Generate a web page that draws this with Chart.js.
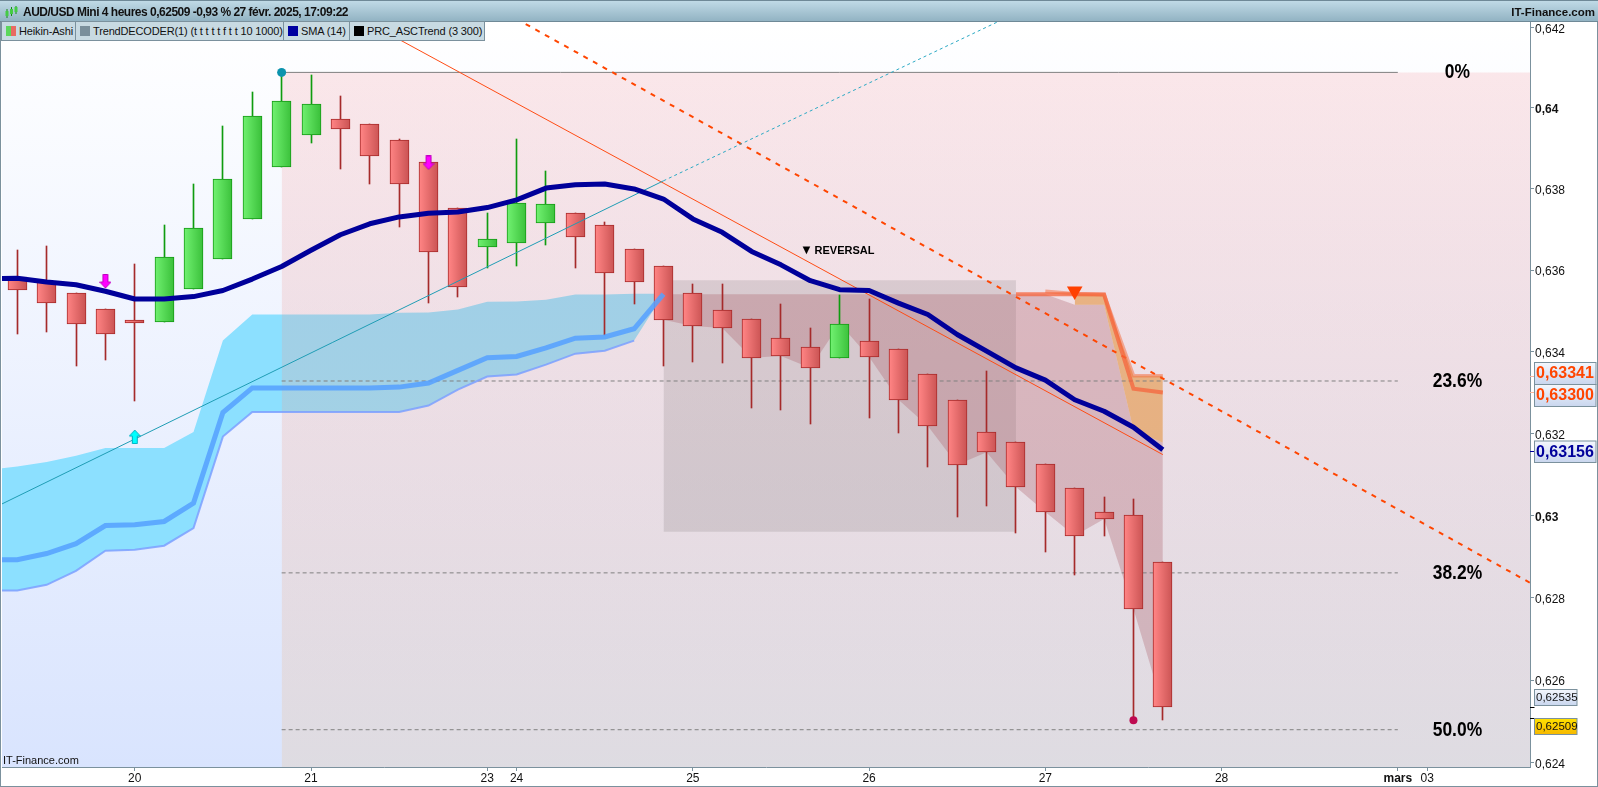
<!DOCTYPE html>
<html>
<head>
<meta charset="utf-8">
<title>AUD/USD Mini 4 heures</title>
<script src="https://cdn.jsdelivr.net/npm/chart.js@4/dist/chart.umd.min.js"></script>
<style>
  html, body { margin: 0; padding: 0; background: #fff; overflow: hidden; }
  body { width: 1598px; height: 787px; position: relative; font-family: "Liberation Sans", Arial, sans-serif; }
  #chart { position: absolute; left: 0; top: 0; width: 1598px; height: 787px; }
  #head { position: absolute; left: 0; top: 0; width: 1598px; height: 22px; border-top: 1px solid #6f8997; border-bottom: 1px solid #6f8997; box-sizing: border-box;
          background: linear-gradient(#c0dae6, #92b3c3); font-size: 11.5px; font-weight: bold; line-height: 22px; color: #111; }
  #head .t { position: absolute; left: 23px; top: 0; white-space: nowrap; letter-spacing: -0.5px; font-size: 12px; }
  #head .r { position: absolute; right: 3px; top: 0; white-space: nowrap; }
  #head .ico { position: absolute; left: 5px; top: 5px; width: 13px; height: 13px; }
  .lg { position: absolute; top: 21px; height: 20px; box-sizing: border-box; border: 1px solid #7b919d; background: #c8dae2; font-size: 11px; letter-spacing: -0.15px; line-height: 18px; color: #111; white-space: nowrap; }
  .lg i { position: absolute; left: 4px; top: 4px; width: 10px; height: 10px; display: block; }
  .lg span { position: absolute; left: 17px; top: 0; }
</style>
</head>
<body>
<canvas id="chart" width="1598" height="787"></canvas>
<div id="head">
  <svg class="ico" viewBox="0 0 13 13"><path d="M2 3v9M6.5 1v9M11 0v8" stroke="#158a15"/><rect x="0.5" y="5" width="3" height="5" fill="#4c4"/><rect x="5" y="3" width="3" height="5" fill="#4c4"/><rect x="9.5" y="1" width="3" height="5" fill="#4c4"/></svg>
  <div class="t">AUD/USD Mini 4 heures 0,62509 -0,93 % 27 févr. 2025, 17:09:22</div>
  <div class="r">IT-Finance.com</div>
</div>
<div class="lg" style="left:1px;width:75px"><i style="background:linear-gradient(90deg,#5bd75b 50%,#e86a62 50%)"></i><span>Heikin-Ashi</span></div>
<div class="lg" style="left:75px;width:209px"><i style="background:#7a8f9b"></i><span>TrendDECODER(1) (t t t t t f t t 10 1000)</span></div>
<div class="lg" style="left:283px;width:67px"><i style="background:#0000a0"></i><span>SMA (14)</span></div>
<div class="lg" style="left:349px;width:136px"><i style="background:#000"></i><span>PRC_ASCTrend (3 300)</span></div>
<script>
// Heikin-Ashi candles, x is the candle number (4h each)
const opens  = [0.63584,0.63570,0.63544,0.63505,0.63478,0.63473,0.63553,0.63627,0.63725,0.63854,0.63934,0.63972,0.63960,0.63920,0.63866,0.63754,0.63657,0.63667,0.63716,0.63740,0.63711,0.63652,0.63610,0.63544,0.63502,0.63480,0.63434,0.63412,0.63385,0.63426,0.63407,0.63345,0.63282,0.63203,0.63179,0.63125,0.63067,0.63008,0.63001,0.62887];
const closes = [0.63550,0.63519,0.63467,0.63442,0.63470,0.63632,0.63703,0.63824,0.63980,0.64017,0.64009,0.63948,0.63881,0.63812,0.63644,0.63558,0.63676,0.63765,0.63763,0.63681,0.63593,0.63571,0.63478,0.63463,0.63458,0.63385,0.63389,0.63360,0.63468,0.63387,0.63282,0.63218,0.63123,0.63154,0.63069,0.63008,0.62950,0.62991,0.62772,0.62535];
const highs  = [0.63650,0.63660,0.63544,0.63505,0.63616,0.63712,0.63813,0.63956,0.64040,0.64088,0.64082,0.64030,0.63960,0.63924,0.63866,0.63754,0.63741,0.63924,0.63845,0.63740,0.63719,0.63652,0.63610,0.63566,0.63566,0.63480,0.63517,0.63459,0.63540,0.63530,0.63407,0.63345,0.63282,0.63353,0.63179,0.63125,0.63067,0.63045,0.63040,0.62887];
const lows   = [0.63444,0.63447,0.63364,0.63380,0.63278,0.63473,0.63553,0.63627,0.63725,0.63854,0.63914,0.63850,0.63813,0.63705,0.63519,0.63533,0.63606,0.63609,0.63663,0.63604,0.63440,0.63516,0.63364,0.63374,0.63371,0.63261,0.63256,0.63222,0.63385,0.63237,0.63202,0.63119,0.62995,0.63022,0.62958,0.62910,0.62855,0.62949,0.62503,0.62503];

// SMA 14, starts one candle before the left edge
const sma14 = [0.63579,0.63580,0.63571,0.63564,0.63548,0.63529,0.63529,0.63535,0.63550,0.63578,0.63609,0.63649,0.63687,0.63714,0.63731,0.63740,0.63743,0.63754,0.63773,0.63802,0.63810,0.63812,0.63800,0.63775,0.63726,0.63693,0.63646,0.63613,0.63574,0.63552,0.63550,0.63519,0.63491,0.63442,0.63401,0.63360,0.63330,0.63282,0.63254,0.63215,0.63160];

// blue cloud, also from candle -1
const cloudUpper = [0.63111,0.63119,0.63130,0.63145,0.63164,0.63164,0.63164,0.63203,0.63427,0.63491,0.63491,0.63491,0.63491,0.63491,0.63495,0.63496,0.63503,0.63522,0.63523,0.63527,0.63540,0.63540,0.63542,0.63542];
const cloudMid   = [0.62892,0.62892,0.62907,0.62931,0.62975,0.62977,0.62985,0.63030,0.63251,0.63311,0.63311,0.63311,0.63311,0.63311,0.63313,0.63323,0.63354,0.63385,0.63388,0.63409,0.63433,0.63436,0.63456,0.63541];
const cloudLower = [0.62817,0.62817,0.62831,0.62865,0.62914,0.62916,0.62926,0.62969,0.63192,0.63252,0.63252,0.63252,0.63252,0.63252,0.63252,0.63268,0.63307,0.63339,0.63344,0.63368,0.63395,0.63402,0.63427];
const cloudEnd = 0.63541;

// red zone above the closes, candles 22 to 39
const trendTop = [0.63541,0.63541,0.63541,0.63541,0.63541,0.63541,0.63541,0.63541,0.63541,0.63541,0.63541,0.63541,0.63541,0.63541,0.63515,0.63515,0.63209,0.63177];
// PRC_ASCTrend bands
const ascUpper = [0.63548,0.63542,0.63540,0.63341,0.63341];  // from candle 35
const ascLower = [0.63541,0.63541,0.63541,0.63540,0.63309,0.63300];  // from candle 34

// trend lines, [candle, price] ends
const thinDown = [[11,0.64249],[39,0.63148]];
const dashDown = [[16,0.64261],[52,0.62816]];
const tealUp   = [[-1,0.63011],[22,0.63820]];
const tealDash = [[22,0.63820],[34,0.64235]];

// Fibonacci
const fibLabels = ['0%','23.6%','38.2%','50.0%'];
const fibLevels = [0.64088,0.63328,0.62860,0.62480];
const fibStart = 9, fibEnd = 47, fibLabelAt = 49.03;

// grey reversal box
const boxFrom = 22, boxTo = 34, boxTop = 0.63575, boxBottom = 0.62960;

// markers
const arrowsDown = [[3,0.63572],[14,0.63864]];
const arrowsUp = [[4,0.63192]];
const pivotHigh = [[9,0.64088]];
const pivotLow = [[38,0.62503]];
const ascSignal = [[36,0.63549]];
const reversalNote = [26.87,0.63648];

// axes
const yTicks = [0.642,0.64,0.638,0.636,0.634,0.632,0.63,0.628,0.626,0.624];
const xTickAt = [4,10,16,17,23,29,35,41,47,48];
const xTickLabels = ['20','21','23','24','25','26','27','28','mars','03'];
const tagValues = [0.63341,0.63300,0.63156,0.62535,0.62509];
const tagTexts = ['0,63341','0,63300','0,63156','0,62535','0,62509'];

const FONT = '"Liberation Sans", Arial, sans-serif';
const pts = (vals, start) => vals.map((y, k) => ({ x: start + k, y }));
const pairs = list => list.map(p => ({ x: p[0], y: p[1] }));

function arrowImage(fill, edge, up) {
  const c = document.createElement('canvas');
  c.width = 12; c.height = 15;
  const g = c.getContext('2d');
  if (up) { g.translate(0, 15); g.scale(1, -1); }
  g.beginPath();
  g.moveTo(3.5, 0.5); g.lineTo(8.5, 0.5); g.lineTo(8.5, 8); g.lineTo(11.5, 8); g.lineTo(6, 14); g.lineTo(0.5, 8); g.lineTo(3.5, 8);
  g.closePath();
  g.fillStyle = fill; g.fill();
  g.strokeStyle = edge; g.lineWidth = 1; g.stroke();
  return c;
}

function bodyFill(light, dark) {
  return ctx => {
    if (!ctx.raw) return dark;
    const px = ctx.chart.scales.x.getPixelForValue(ctx.raw.x);
    if (!isFinite(px)) return dark;
    const g = ctx.chart.ctx.createLinearGradient(px - 9, 0, px + 9, 0);
    g.addColorStop(0, light);
    g.addColorStop(1, dark);
    return g;
  };
}

function bandFill(ctx) {
  const area = ctx.chart.chartArea;
  const top = ctx.chart.scales.y.getPixelForValue(fibLevels[0]);
  if (!area || !isFinite(top) || !isFinite(area.bottom)) return 'rgba(240,120,130,0.17)';
  const g = ctx.chart.ctx.createLinearGradient(0, top, 0, area.bottom);
  g.addColorStop(0, 'rgba(240,120,130,0.17)');
  g.addColorStop(1, 'rgba(234,201,161,0.30)');
  return g;
}

const isUp = i => closes[i] >= opens[i];
const idx = closes.map((_, i) => i);
const upIdx = idx.filter(isUp);
const downIdx = idx.filter(i => !isUp(i));
const wick = i => ({ x: i, y: [lows[i], highs[i]] });
const body = i => ({ x: i, y: [opens[i], closes[i]] });

const lineBase = { type: 'line', pointRadius: 0, fill: false, tension: 0, borderWidth: 1 };
const barBase = { type: 'bar', grouped: false, borderSkipped: false };
const markBase = { type: 'line', showLine: false, pointBorderWidth: 0 };

const datasets = [
  // fills, lowest first (higher order is drawn first)
  { ...lineBase, order: 20, data: pts(cloudUpper, -1), borderWidth: 0, backgroundColor: '#8ce0ff', fill: '+1' },
  { ...lineBase, order: 21, data: pts(cloudLower.concat([cloudEnd]), -1), borderWidth: 0 },
  { ...lineBase, order: 19, data: pairs([[fibStart, fibLevels[0]], [53, fibLevels[0]]]), borderWidth: 0, backgroundColor: bandFill, fill: 'start' },
  { ...lineBase, order: 18, data: pairs([[boxFrom, boxTop], [boxTo, boxTop]]), borderWidth: 0, backgroundColor: 'rgba(95,85,85,0.16)', fill: { value: boxBottom } },
  { ...lineBase, order: 17, data: pts(trendTop, 22), borderWidth: 0, backgroundColor: 'rgba(170,90,100,0.30)', fill: '+1' },
  { ...lineBase, order: 18, data: pts(closes.slice(22), 22), borderWidth: 0 },
  { ...lineBase, order: 16, data: pts(ascUpper.slice(1), 36), borderWidth: 0, backgroundColor: 'rgba(228,150,70,0.62)', fill: '+1' },
  { ...lineBase, order: 18, data: pts(trendTop.slice(14), 36), borderWidth: 0 },

  // fibonacci lines
  ...fibLevels.map((lv, k) => ({ ...lineBase, order: 15, data: pairs([[fibStart, lv], [fibEnd, lv]]), borderColor: '#808080', borderDash: k ? [4, 3] : [] })),

  // candles
  { ...barBase, order: 11, barThickness: 1, data: downIdx.map(wick), backgroundColor: '#a52a2a', borderWidth: 0 },
  { ...barBase, order: 11, barThickness: 1, data: upIdx.map(wick), backgroundColor: '#0f9c0f', borderWidth: 0 },
  { ...barBase, order: 10, barThickness: 19, data: downIdx.map(body), backgroundColor: bodyFill('#ff8484', '#cc5555'), borderColor: '#a82a2a', borderWidth: 1 },
  { ...barBase, order: 10, barThickness: 19, data: upIdx.map(body), backgroundColor: bodyFill('#70f070', '#3cc23c'), borderColor: '#159a15', borderWidth: 1 },

  // trend lines
  { ...lineBase, order: 8, data: pairs(tealUp), borderColor: '#1f9db5' },
  { ...lineBase, order: 8, data: pairs(tealDash), borderColor: '#2aa9c4', borderDash: [3, 3] },
  { ...lineBase, order: 8, data: pairs(thinDown), borderColor: '#ff4c14' },
  { ...lineBase, order: 8, data: pairs(dashDown), borderColor: '#ff4500', borderWidth: 2, borderDash: [5, 6] },

  // indicators
  { ...lineBase, order: 6, data: pts(cloudLower, -1), borderColor: 'rgba(125,160,255,0.85)', borderWidth: 2 },
  { ...lineBase, order: 5, data: pts(cloudMid, -1), borderColor: 'rgba(85,160,255,0.85)', borderWidth: 5 },
  { ...lineBase, order: 5, data: pts(ascUpper, 35), borderColor: 'rgba(245,105,60,0.5)', borderWidth: 3.5 },
  { ...lineBase, order: 5, data: pts(ascLower, 34), borderColor: 'rgba(245,100,60,0.75)', borderWidth: 4 },
  { ...lineBase, order: 3, data: pts(sma14, -1), borderColor: '#00009a', borderWidth: 5, borderJoinStyle: 'round' },

  // markers
  { ...markBase, order: 1, data: pairs(arrowsDown), pointStyle: arrowImage('#ff00ff', '#c000c0', false) },
  { ...markBase, order: 1, data: pairs(arrowsUp), pointStyle: arrowImage('#00ffff', '#00b0c0', true) },
  { ...markBase, order: 1, data: pairs(pivotHigh), pointStyle: 'circle', pointRadius: 4.5, pointBackgroundColor: '#0b93ad' },
  { ...markBase, order: 1, data: pairs(pivotLow), pointStyle: 'circle', pointRadius: 4, pointBackgroundColor: '#be0a50' },
  { ...markBase, order: 1, data: pairs(ascSignal), pointStyle: 'triangle', pointRotation: 180, pointRadius: 9, pointBackgroundColor: '#ff4000' }
];

// plot background, frame
const backdrop = {
  id: 'backdrop',
  beforeDraw(chart) {
    const { ctx, chartArea: a } = chart;
    ctx.save();
    ctx.strokeStyle = '#7b919d';
    ctx.lineWidth = 1;
    ctx.strokeRect(0.5, 0.5, chart.width - 1, chart.height - 1);
    const g = ctx.createLinearGradient(0, a.top, 0, a.bottom);
    g.addColorStop(0, '#ffffff');
    g.addColorStop(1, '#d9e4fe');
    ctx.fillStyle = g;
    ctx.fillRect(a.left, a.top, a.right - a.left, a.bottom - a.top);
    ctx.restore();
  }
};

// keep the candles on whole pixels, otherwise the wicks blur
const snapBars = {
  id: 'snapBars',
  afterDatasetsUpdate(chart) {
    chart.getSortedVisibleDatasetMetas().forEach(meta => {
      if (meta.type !== 'bar') return;
      meta.data.forEach(el => {
        el.x = Math.round(el.x - 0.5) + 0.5;
        el.y = Math.round(el.y);
        el.base = Math.round(el.base);
      });
    });
  }
};

// fib labels, notes and the price tags on the axis
const tagBoxes = [
  { top: 362.5, h: 22, w: 61.5, font: 'bold 16px', color: '#ff4500', mark: '#f7b7a0' },
  { top: 384.5, h: 22, w: 61.5, font: 'bold 16px', color: '#ff4500', mark: '#f7b7a0' },
  { top: 441, h: 21.5, w: 61.5, font: 'bold 16px', color: '#00009a', mark: '#00009a' },
  { top: 689.5, h: 16, w: 42.5, font: '11.5px', color: '#111', mark: '#000' },
  { top: 718.5, h: 16, w: 42.5, font: '11.5px', color: '#111', mark: '#000', gold: true }
];

const annotations = {
  id: 'annotations',
  afterDraw(chart) {
    const { ctx, chartArea: a, scales: { x, y } } = chart;
    ctx.save();
    ctx.textBaseline = 'middle';

    ctx.fillStyle = '#000';
    ctx.textAlign = 'center';
    ctx.font = 'bold 21px ' + FONT;
    fibLabels.forEach((t, k) => {
      ctx.save();
      ctx.translate(x.getPixelForValue(fibLabelAt), y.getPixelForValue(fibLevels[k]));
      ctx.scale(0.83, 1);
      ctx.fillText(t, 0, 0);
      ctx.restore();
    });

    const nx = x.getPixelForValue(reversalNote[0]), ny = y.getPixelForValue(reversalNote[1]);
    ctx.font = '13px ' + FONT;
    ctx.fillText('▼', nx, ny);
    ctx.textAlign = 'left';
    ctx.font = 'bold 11px ' + FONT;
    ctx.fillText('REVERSAL', nx + 8, ny);

    ctx.font = '11px ' + FONT;
    ctx.fillStyle = '#111';
    ctx.fillText('IT-Finance.com', a.left + 1, 761);

    tagValues.forEach((v, k) => {
      const b = tagBoxes[k], py = Math.round(y.getPixelForValue(v)) + 0.5;
      ctx.strokeStyle = b.mark;
      ctx.lineWidth = 1;
      ctx.beginPath(); ctx.moveTo(a.right, py); ctx.lineTo(a.right + 4.5, py); ctx.stroke();
      const g = ctx.createLinearGradient(0, b.top, 0, b.top + b.h);
      g.addColorStop(0, b.gold ? '#ffe100' : '#f4f7fd');
      g.addColorStop(1, b.gold ? '#f6b800' : '#c9d6ee');
      ctx.fillStyle = g;
      ctx.fillRect(1534.5, b.top, b.w, b.h);
      ctx.strokeStyle = '#7b919d';
      ctx.strokeRect(1534.5, b.top, b.w, b.h);
      ctx.fillStyle = b.color;
      ctx.font = b.font + ' ' + FONT;
      ctx.fillText(tagTexts[k], 1536, b.top + b.h / 2 + 0.5);
    });
    ctx.restore();
  }
};

new Chart(document.getElementById('chart'), {
  data: { datasets },
  plugins: [backdrop, snapBars, annotations],
  options: {
    responsive: false,
    animation: false,
    events: [],
    layout: { autoPadding: false, padding: { left: 2, right: 2, top: 22, bottom: 2 } },
    plugins: { legend: { display: false }, tooltip: { enabled: false } },
    scales: {
      x: {
        type: 'linear',
        offset: false,
        min: -0.52,
        max: 51.5,
        afterFit: s => { s.height = 18; s.paddingLeft = 0; s.paddingRight = 0; },
        afterBuildTicks: s => { s.ticks = xTickAt.map(value => ({ value })); },
        grid: { offset: false, drawOnChartArea: false, color: '#7b919d', tickLength: 4 },
        border: { color: '#7b919d' },
        ticks: {
          autoSkip: false,
          maxRotation: 0,
          padding: 0,
          color: '#111',
          font: c => ({ family: FONT, size: 12, weight: c.tick && c.tick.value === 47 ? 'bold' : 'normal' }),
          callback: v => xTickLabels[xTickAt.indexOf(v)]
        }
      },
      y: {
        type: 'logarithmic',
        position: 'right',
        min: 0.6239,
        max: 0.64213,
        afterFit: s => { s.width = 66; s.paddingTop = 0; s.paddingBottom = 0; },
        afterBuildTicks: s => { s.ticks = yTicks.map(value => ({ value })); },
        grid: { drawOnChartArea: false, color: '#7b919d', tickLength: 4 },
        border: { color: '#7b919d' },
        ticks: {
          autoSkip: false,
          padding: 1,
          labelOffset: 2,
          color: '#111',
          font: c => ({ family: FONT, size: 12, weight: c.tick && (c.tick.value === 0.64 || c.tick.value === 0.63) ? 'bold' : 'normal' }),
          callback: v => String(v).replace('.', ',')
        }
      }
    }
  }
});
</script>
</body>
</html>
